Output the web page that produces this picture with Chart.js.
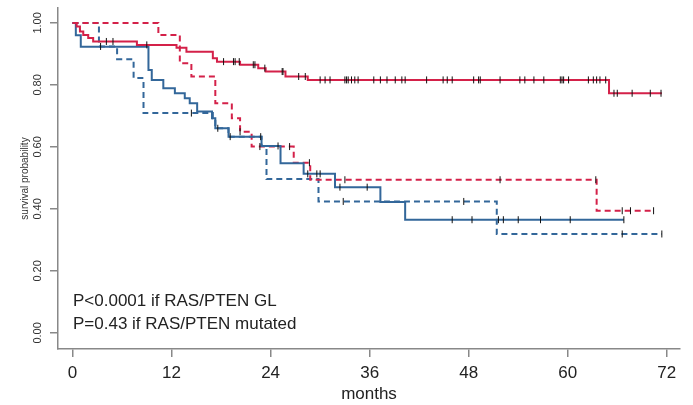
<!DOCTYPE html>
<html>
<head>
<meta charset="utf-8">
<script src="https://cdn.jsdelivr.net/npm/chart.js@4/dist/chart.umd.min.js"></script>
<style>
html, body { margin: 0; padding: 0; background: #fff; }
#wrap { width: 693px; height: 405px; }
</style>
</head>
<body>
<div id="wrap"><canvas id="km"></canvas></div>
<script>
// tick labels
const xTicks = [0, 12, 24, 36, 48, 60, 72];
const yTicks = [0, 0.2, 0.4, 0.6, 0.8, 1.0];

// Kaplan-Meier curves: event times (months) and survival after each step
const redSolidT = [0, 0.5, 0.9, 1.3, 1.9, 2.5, 7.8, 12.6, 13.8, 17.0, 17.5, 20.3, 22.5, 23.4, 25.8, 28.5, 65.0, 71.4];
const redSolidS = [1.0, 0.988, 0.972, 0.961, 0.951, 0.94, 0.929, 0.92, 0.907, 0.886, 0.875, 0.865, 0.854, 0.843, 0.827, 0.816, 0.773, 0.773];

const redDashT = [0, 10.4, 13.0, 14.4, 17.3, 19.3, 20.3, 21.7, 26.8, 28.8, 63.5, 70.4];
const redDashS = [1.0, 0.961, 0.870, 0.827, 0.741, 0.692, 0.649, 0.601, 0.549, 0.494, 0.394, 0.394];

const blueSolidT = [0, 0.4, 1.0, 9.2, 9.6, 11.0, 12.4, 13.6, 14.2, 15.1, 16.9, 17.3, 18.9, 22.9, 25.2, 28.0, 31.8, 37.3, 40.3, 66.8];
const blueSolidS = [1.0, 0.96, 0.923, 0.848, 0.816, 0.789, 0.773, 0.757, 0.741, 0.714, 0.692, 0.660, 0.633, 0.603, 0.547, 0.513, 0.470, 0.422, 0.365, 0.365];

const blueDashT = [0, 3.2, 5.4, 7.4, 8.6, 17.0, 17.3, 18.9, 22.9, 23.5, 29.8, 51.4, 71.4];
const blueDashS = [1.0, 0.924, 0.883, 0.822, 0.709, 0.692, 0.660, 0.633, 0.603, 0.496, 0.424, 0.319, 0.319];

// censored observations (months)
const redSolidCens = [4.1, 4.9, 9.0, 18.3, 19.5, 19.7, 20.2, 21.9, 22.1, 23.3, 25.4, 25.5, 27.4, 28.2, 30.0, 30.6, 31.2, 33.0, 33.2, 33.4, 33.8, 34.2, 34.6, 36.5, 37.3, 38.1, 39.1, 39.9, 40.3, 42.9, 44.9, 45.4, 46.0, 48.6, 49.2, 49.4, 51.8, 54.2, 54.8, 55.9, 57.1, 59.1, 59.3, 59.5, 60.1, 62.5, 63.1, 63.5, 63.9, 64.6, 65.6, 66.0, 67.8, 70.0, 71.3];
const redDashCens = [20.3, 22.7, 26.3, 28.7, 33.0, 51.8, 63.4, 66.6, 67.6, 70.4];
const blueSolidCens = [17.6, 19.1, 22.8, 24.9, 28.5, 29.6, 30.0, 32.4, 35.7, 46.0, 48.4, 51.6, 52.2, 54.0, 56.7, 60.3, 66.8];
const blueDashCens = [3.4, 14.4, 32.8, 47.4, 66.6, 71.4];

const pLines = ['P<0.0001 if RAS/PTEN GL', 'P=0.43 if RAS/PTEN mutated'];

const RED = '#d42149';
const BLUE = '#33679a';
const FONT = '"Liberation Sans", Arial, Helvetica, sans-serif';

// survival value of a step curve at time t
function survAt(T, S, t) {
    let v = S[0];
    for (let i = 0; i < T.length; i++) {
        if (T[i] <= t) v = S[i];
    }
    return v;
}

function stepLine(T, S, color, dash) {
    return {
        type: 'line',
        data: T.map((t, i) => ({ x: t, y: S[i] })),
        stepped: true,
        borderColor: color,
        borderWidth: 2,
        borderDash: dash,
        pointRadius: 0,
        fill: false
    };
}

function censMarks(T, S, cens) {
    return {
        type: 'scatter',
        data: cens.map(t => ({ x: t, y: survAt(T, S, t) })),
        pointStyle: 'line',
        pointRotation: 90,
        pointRadius: 3.5,
        pointBorderColor: '#111',
        pointBorderWidth: 1,
        showLine: false
    };
}

// p-value notes in the lower left of the plot
const pNote = {
    id: 'pNote',
    afterDraw(chart) {
        const { ctx, chartArea } = chart;
        ctx.save();
        ctx.font = '17px ' + FONT;
        ctx.fillStyle = '#222';
        ctx.textBaseline = 'alphabetic';
        ctx.fillText(pLines[0], chartArea.left + 15, chartArea.bottom - 43);
        ctx.fillText(pLines[1], chartArea.left + 15, chartArea.bottom - 20);
        ctx.restore();
    }
};

new Chart(document.getElementById('km'), {
    data: {
        datasets: [
            censMarks(redSolidT, redSolidS, redSolidCens),
            censMarks(redDashT, redDashS, redDashCens),
            censMarks(blueSolidT, blueSolidS, blueSolidCens),
            censMarks(blueDashT, blueDashS, blueDashCens),
            stepLine(redSolidT, redSolidS, RED, []),
            stepLine(blueSolidT, blueSolidS, BLUE, []),
            stepLine(redDashT, redDashS, RED, [6, 4]),
            stepLine(blueDashT, blueDashS, BLUE, [6, 4])
        ]
    },
    options: {
        responsive: true,
        maintainAspectRatio: false,
        animation: false,
        layout: { padding: { top: 8, right: 13, left: 0, bottom: 0 } },
        plugins: {
            legend: { display: false },
            tooltip: { enabled: false }
        },
        scales: {
            x: {
                type: 'linear',
                min: -1.76,
                max: 73.6,
                afterBuildTicks: s => { s.ticks = xTicks.map(v => ({ value: v })); },
                afterFit: s => { s.height = 56; },
                ticks: { font: { family: FONT, size: 17 }, color: '#222', padding: 6, maxRotation: 0 },
                grid: { drawOnChartArea: false, drawTicks: true, tickLength: 8, color: '#888', lineWidth: 1.5 },
                border: { color: '#888', width: 1.5 },
                title: { display: true, text: 'months', font: { family: FONT, size: 17 }, color: '#222', padding: 0 }
            },
            y: {
                type: 'linear',
                min: -0.052,
                max: 1.048,
                afterBuildTicks: s => { s.ticks = yTicks.map(v => ({ value: v })); },
                afterFit: s => { s.width = 58; },
                ticks: {
                    font: { family: FONT, size: 11 }, color: '#333', padding: 1,
                    minRotation: 90, maxRotation: 90, crossAlign: 'center',
                    callback: v => v.toFixed(2)
                },
                grid: { drawOnChartArea: false, drawTicks: true, tickLength: 8, color: '#888', lineWidth: 1.5 },
                border: { color: '#888', width: 1.5 },
                title: { display: true, text: 'survival probability', font: { family: FONT, size: 10 }, color: '#333', padding: { top: 19, bottom: 0 } }
            }
        }
    },
    plugins: [pNote]
});
</script>
</body>
</html>
